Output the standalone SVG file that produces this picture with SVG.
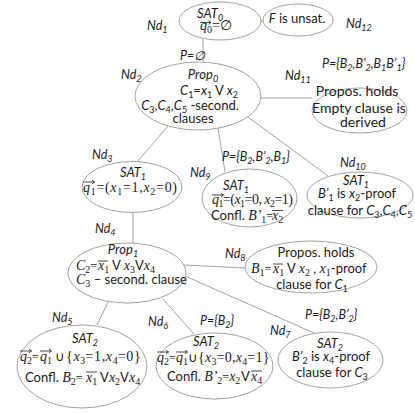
<svg xmlns="http://www.w3.org/2000/svg" width="415" height="413" viewBox="0 0 415 413">
<style>
.e{fill:#fff;stroke:#a3a3a3;stroke-width:1}
#connectors line{stroke:#a3a3a3;stroke-width:1}
text{font-family:Lato,"Liberation Sans",sans-serif;font-size:13px;fill:#1a1a1a}
.i{font-style:italic}
.l{font-style:italic;font-size:12.5px}
.m{font-family:"Liberation Serif",serif;font-size:14px}
.mi{font-family:"Liberation Serif",serif;font-style:italic;font-size:14px}
.s{font-size:9px}
.sm{font-family:"Liberation Serif",serif;font-size:10px}
.q{font-family:"Liberation Serif",serif;font-size:12px;font-style:normal}
.ov{stroke:#1a1a1a;stroke-width:0.8;fill:none}
.c{text-anchor:middle}
.b{font-size:14px}
.g{font-family:Lato,"Liberation Sans",sans-serif;font-size:13px;font-style:normal}
</style>
<rect width="415" height="413" fill="#fff"/>
<g id="connectors">
<line x1="203" y1="38.5" x2="203" y2="62"/>
<line x1="261" y1="21" x2="263.5" y2="21"/>
<line x1="261" y1="98" x2="312" y2="98"/>
<line x1="248" y1="117" x2="328" y2="176"/>
<line x1="218" y1="128" x2="225" y2="172"/>
<line x1="168" y1="126" x2="137" y2="162"/>
<line x1="133" y1="212.5" x2="133" y2="243"/>
<line x1="184" y1="265" x2="246" y2="268"/>
<line x1="185" y1="276" x2="314" y2="333"/>
<line x1="163" y1="299" x2="194" y2="334"/>
<line x1="108" y1="302" x2="97" y2="325"/>
<text class="l" x="180" y="60">P=∅</text>
<text class="l" x="322" y="68">P={B<tspan class="s" dy="3">2</tspan><tspan dy="-3">,B’</tspan><tspan class="s" dy="3">2</tspan><tspan dy="-3">,B</tspan><tspan class="s" dy="3">1</tspan><tspan dy="-3">B’</tspan><tspan class="s" dy="3">1</tspan><tspan dy="-3">}</tspan></text>
<text class="l" x="222" y="161">P={B<tspan class="s" dy="3">2</tspan><tspan dy="-3">,B’</tspan><tspan class="s" dy="3">2</tspan><tspan dy="-3">,B</tspan><tspan class="s" dy="3">1</tspan><tspan dy="-3">}</tspan></text>
<text class="l" x="200" y="325">P={B<tspan class="s" dy="3">2</tspan><tspan dy="-3">}</tspan></text>
<text class="l" x="305" y="319">P={B<tspan class="s" dy="3">2</tspan><tspan dy="-3">,B’</tspan><tspan class="s" dy="3">2</tspan><tspan dy="-3">}</tspan></text>
</g>
<g id="nd1">
<ellipse class="e" cx="220" cy="21" rx="41" ry="19"/>
<text class="i" x="197" y="18">SAT<tspan class="s" dy="3">0</tspan></text>
<text class="m" x="200" y="30"><tspan class="mi">q</tspan><tspan class="sm" dy="3">0</tspan><tspan dy="-3">=∅</tspan></text>
<path class="ov" d="M200 22.5H211m-2.5-1.8l2.5 1.8l-2.5 1.8"/>
<text class="l" x="147" y="30">Nd<tspan class="s" dy="3">1</tspan></text>
</g>
<g id="nd12">
<ellipse class="e" cx="298" cy="20" rx="35" ry="16"/>
<text class="c" x="297" y="23" font-size="12.5"><tspan class="i">F</tspan> is unsat.</text>
<text class="l" x="346" y="28">Nd<tspan class="s" dy="3">12</tspan></text>
</g>
<g id="nd2">
<ellipse class="e" cx="198" cy="96" rx="63" ry="34"/>
<text class="i c" x="203" y="79">Prop<tspan class="s" dy="3">0</tspan></text>
<text class="c" x="209" y="95"><tspan class="i">C</tspan><tspan class="s" dy="3">1</tspan><tspan dy="-3">=</tspan><tspan class="i">x</tspan><tspan class="s" dy="3">1</tspan><tspan dy="-3"> V </tspan><tspan class="i">x</tspan><tspan class="s" dy="3">2</tspan></text>
<text class="c" x="190" y="110" font-size="12.3"><tspan class="i">C</tspan><tspan class="s" dy="3">3</tspan><tspan dy="-3">,</tspan><tspan class="i">C</tspan><tspan class="s" dy="3">4</tspan><tspan dy="-3">,</tspan><tspan class="i">C</tspan><tspan class="s" dy="3">5</tspan><tspan dy="-3"> -second.</tspan></text>
<text class="c" x="193" y="123">clauses</text>
<text class="l" x="121" y="79">Nd<tspan class="s" dy="3">2</tspan></text>
</g>
<g id="nd11">
<ellipse class="e" cx="359.5" cy="110.5" rx="47.5" ry="22.5"/>
<text class="c b" x="357" y="96">Propos. holds</text>
<text class="c b" x="359" y="113">Empty clause is</text>
<text class="c b" x="363" y="127">derived</text>
<text class="l" x="285" y="80">Nd<tspan class="s" dy="3">11</tspan></text>
</g>
<g id="nd10">
<ellipse class="e" cx="360" cy="195" rx="53" ry="23"/>
<text class="i c" x="356" y="185">SAT<tspan class="s" dy="3">1</tspan></text>
<text class="c" x="357" y="198"><tspan class="i">B’</tspan><tspan class="s" dy="3">1</tspan><tspan dy="-3"> is  </tspan><tspan class="i">x</tspan><tspan class="s" dy="3">2</tspan><tspan dy="-3">-proof</tspan></text>
<text class="c" x="360" y="215">clause for <tspan class="i">C</tspan><tspan class="s" dy="3">3</tspan><tspan dy="-3">,</tspan><tspan class="i">C</tspan><tspan class="s" dy="3">4</tspan><tspan dy="-3">,</tspan><tspan class="i">C</tspan><tspan class="s" dy="3">5</tspan></text>
<text class="l" x="340" y="167">Nd<tspan class="s" dy="3">10</tspan></text>
</g>
<g id="nd9">
<ellipse class="e" cx="249.5" cy="198" rx="47.5" ry="29"/>
<text class="i c" x="236" y="190">SAT<tspan class="s" dy="3">1</tspan></text>
<text class="m" x="212" y="204" textLength="81"><tspan class="mi">q</tspan><tspan class="sm" dy="3">1</tspan><tspan dy="-3">=(</tspan><tspan class="mi">x</tspan><tspan class="sm" dy="3">1</tspan><tspan dy="-3">=0, </tspan><tspan class="mi">x</tspan><tspan class="sm" dy="3">2</tspan><tspan dy="-3">=1)</tspan></text>
<path class="ov" d="M212 195H223.5m-2.5-1.8l2.5 1.8l-2.5 1.8"/>
<text x="211" y="220" font-size="12.5">Confl. <tspan class="mi">B’</tspan><tspan class="sm" dy="3">1</tspan><tspan class="q" dy="-3">=</tspan><tspan x="272" class="mi">x</tspan><tspan class="sm" dy="3">2</tspan></text>
<path class="ov" d="M272 210.5H283"/>
<text class="l" x="190" y="177">Nd<tspan class="s" dy="3">9</tspan></text>
</g>
<g id="nd3">
<ellipse class="e" cx="132" cy="187" rx="50" ry="25.5"/>
<text class="i c" x="133" y="177">SAT<tspan class="s" dy="3">1</tspan></text>
<text class="m" x="83" y="192" textLength="94"><tspan class="mi">q</tspan><tspan class="sm" dy="3">1</tspan><tspan dy="-3">=(</tspan><tspan class="mi">x</tspan><tspan class="sm" dy="3">1</tspan><tspan dy="-3">=1,</tspan><tspan class="mi">x</tspan><tspan class="sm" dy="3">2</tspan><tspan dy="-3">=0)</tspan></text>
<path class="ov" d="M83 182H94.5m-2.5-1.8l2.5 1.8l-2.5 1.8"/>
<text class="l" x="92" y="159">Nd<tspan class="s" dy="3">3</tspan></text>
</g>
<g id="nd4">
<ellipse class="e" cx="127" cy="273" rx="59" ry="30"/>
<text class="i c" x="123" y="254">Prop<tspan class="s" dy="3">1</tspan></text>
<text class="m" y="270"><tspan x="76" class="mi">C</tspan><tspan class="sm" dy="3">2</tspan><tspan dy="-3" class="q">=</tspan><tspan x="98" class="mi">x</tspan><tspan class="sm" dy="3">1</tspan><tspan dy="-3" class="g"> V </tspan><tspan class="mi">x</tspan><tspan class="sm" dy="3">3</tspan><tspan dy="-3" class="g">V</tspan><tspan class="mi">x</tspan><tspan class="sm" dy="3">4</tspan></text>
<path class="ov" d="M98 261H108"/>
<text x="76" y="284"><tspan class="mi">C</tspan><tspan class="sm" dy="3">3</tspan><tspan dy="-3"> – second. clause</tspan></text>
<text class="l" x="95" y="233">Nd<tspan class="s" dy="3">4</tspan></text>
</g>
<g id="nd8">
<ellipse class="e" cx="311" cy="267" rx="66" ry="26"/>
<text class="c" x="316" y="257" font-size="12">Propos. holds</text>
<text y="273"><tspan x="251" class="mi">B</tspan><tspan class="sm" dy="3">1</tspan><tspan class="q" dy="-3">=</tspan><tspan x="273" class="mi">x</tspan><tspan class="sm" dy="3">1</tspan><tspan dy="-3"> V </tspan><tspan class="mi">x</tspan><tspan class="sm" dy="3">2</tspan><tspan dy="-3">  , </tspan><tspan class="mi">x</tspan><tspan class="sm" dy="3">1</tspan><tspan dy="-3">-proof</tspan></text>
<path class="ov" d="M273 264H283"/>
<text class="c" x="312" y="289">clause  for <tspan class="i">C</tspan><tspan class="s" dy="3">1</tspan></text>
<text class="l" x="225" y="258">Nd<tspan class="s" dy="3">8</tspan></text>
</g>
<g id="nd7">
<ellipse class="e" cx="330.5" cy="360" rx="52.5" ry="28"/>
<text class="i c" x="330" y="348">SAT<tspan class="s" dy="3">2</tspan></text>
<text class="c" x="331" y="361"><tspan class="i">B’</tspan><tspan class="s" dy="3">2</tspan><tspan dy="-3"> is  </tspan><tspan class="i">x</tspan><tspan class="s" dy="3">4</tspan><tspan dy="-3">-proof</tspan></text>
<text class="c" x="332" y="377">clause for <tspan class="i">C</tspan><tspan class="s" dy="3">3</tspan></text>
<text class="l" x="270" y="335">Nd<tspan class="s" dy="3">7</tspan></text>
</g>
<g id="nd6">
<ellipse class="e" cx="214.5" cy="366" rx="58.5" ry="33"/>
<text class="i c" x="206" y="346">SAT<tspan class="s" dy="3">2</tspan></text>
<text class="m" y="362"><tspan x="157" class="mi">q</tspan><tspan class="sm" dy="3">2</tspan><tspan dy="-3" class="q">=</tspan><tspan x="176" class="mi">q</tspan><tspan class="sm" dy="3">1</tspan><tspan dy="-3" class="g">∪</tspan><tspan x="198" letter-spacing="0.3">{</tspan><tspan class="mi" letter-spacing="0.3">x</tspan><tspan class="sm" dy="3">3</tspan><tspan dy="-3" letter-spacing="0.3">=0,</tspan><tspan class="mi" letter-spacing="0.3">x</tspan><tspan class="sm" dy="3">4</tspan><tspan dy="-3" letter-spacing="0.3">=1}</tspan></text>
<path class="ov" d="M157 352H168.5m-2.5-1.8l2.5 1.8l-2.5 1.8M176 352H187.5m-2.5-1.8l2.5 1.8l-2.5 1.8"/>
<text x="167" y="381" font-size="12.5">Confl. <tspan class="mi">B’</tspan><tspan class="sm" dy="3">2</tspan><tspan class="q" dy="-3">=</tspan><tspan class="mi">x</tspan><tspan class="sm" dy="3">2</tspan><tspan dy="-3" x="241">V </tspan><tspan x="251" class="mi">x</tspan><tspan class="sm" dy="3">4</tspan></text>
<path class="ov" d="M251 371H262"/>
<text class="l" x="148" y="326">Nd<tspan class="s" dy="3">6</tspan></text>
</g>
<g id="nd5">
<ellipse class="e" cx="82" cy="366.5" rx="65" ry="41.5"/>
<text class="i c" x="85" y="343">SAT<tspan class="s" dy="3">2</tspan></text>
<text class="m" y="361"><tspan x="20" class="mi">q</tspan><tspan class="sm" dy="3">2</tspan><tspan dy="-3" class="q">=</tspan><tspan x="40" class="mi">q</tspan><tspan class="sm" dy="3">1</tspan><tspan dy="-3" class="g"> ∪ </tspan><tspan x="66" letter-spacing="0.7">{</tspan><tspan class="mi" letter-spacing="0.7">x</tspan><tspan class="sm" dy="3">3</tspan><tspan dy="-3" letter-spacing="0.7">=1,</tspan><tspan class="mi" letter-spacing="0.7">x</tspan><tspan class="sm" dy="3">4</tspan><tspan dy="-3" letter-spacing="0.7">=0}</tspan></text>
<path class="ov" d="M20 351H31.5m-2.5-1.8l2.5 1.8l-2.5 1.8M40 351H51.5m-2.5-1.8l2.5 1.8l-2.5 1.8"/>
<text x="25" y="382">Confl. <tspan class="mi">B</tspan><tspan class="sm" dy="3">2</tspan><tspan class="q" dy="-3">=</tspan><tspan x="86" class="mi">x</tspan><tspan class="sm" dy="3">1</tspan><tspan dy="-3"> V</tspan><tspan class="mi">x</tspan><tspan class="sm" dy="3">2</tspan><tspan dy="-3">V</tspan><tspan class="mi">x</tspan><tspan class="sm" dy="3">4</tspan></text>
<path class="ov" d="M86 372H97"/>
<text class="l" x="52" y="322">Nd<tspan class="s" dy="3">5</tspan></text>
</g>
</svg>
